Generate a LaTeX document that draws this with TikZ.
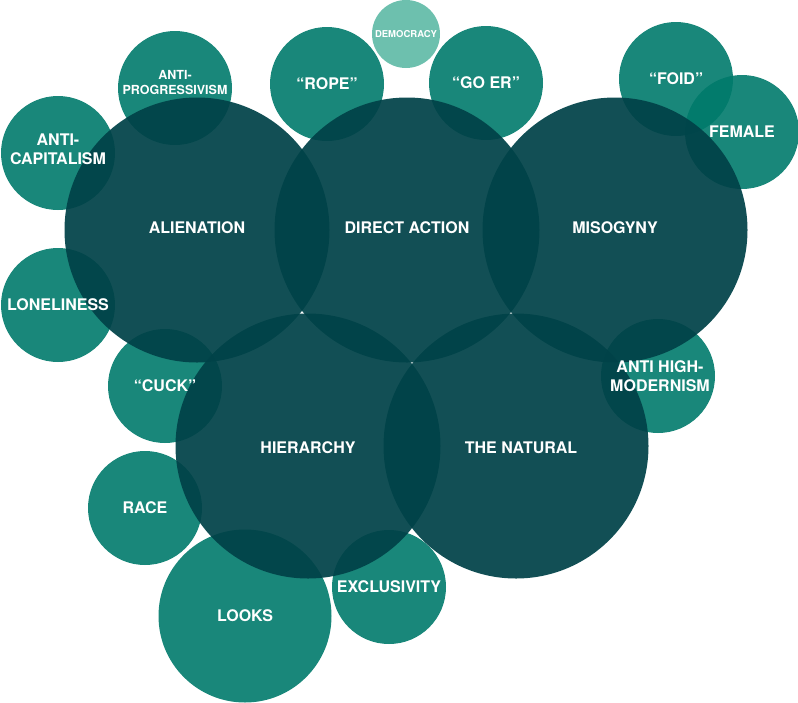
\documentclass[tikz,border=0pt]{standalone}
\usepackage{fontspec}
\setmainfont{TeX Gyre Heros}
\usetikzlibrary{positioning}
\definecolor{bigteal}{RGB}{0,66,72}
\definecolor{smallteal}{RGB}{0,122,107}
\definecolor{paleteal}{RGB}{109,192,174}
\tikzset{x=1pt,y=-1pt,
    big/.style={circle,fill=bigteal,fill opacity=0.93,minimum size=265pt,inner sep=0pt},
    small/.style={circle,fill=smallteal,fill opacity=0.9,minimum size=114pt,inner sep=0pt},
    tiny/.style={circle,fill=paleteal,minimum size=68pt,inner sep=0pt},
    textnode/.style={text=white,align=center,font=\bfseries\fontsize{16}{19}\selectfont},
    smalltext/.style={text=white,align=center,font=\bfseries\fontsize{12.5}{15}\selectfont}}

\begin{document}
\begin{tikzpicture}
\useasboundingbox (0,0) rectangle (798,702);
% outer circles
\node[tiny]  (democ)    at (406,34)   {};
\node[small] (antiprog) at (175,88)   {};
\node[small] (anticap)  at (58,153)   {};
\node[small] (rope)     at (327,84)   {};
\node[small] (goer)     at (486,83)   {};
\node[small] (foid)     at (676,79)   {};
\node[small] (female)   at (742,132)  {};
\node[small] (lonely)   at (58,305)   {};
\node[small] (cuck)     at (165,386)  {};
\node[small] (antihigh) at (658,376)  {};
\node[small] (race)     at (145,508)  {};
\node[small] (exclus)   at (389,587)  {};
\node[small, minimum size=173pt] (looks) at (245,616) {};
% core circles
\node[big] (alien)   at (197,230) {};
\node[big] (direct)  at (407,230) {};
\node[big] (misog)   at (615,230) {};
\node[big] (hier)    at (308,446) {};
\node[big] (natural) at (516,446) {};
% labels
\node[textnode] (alien-t)   [yshift=2pt]  at (alien)   {ALIENATION};
\node[textnode] (direct-t)  [yshift=2pt]  at (direct)  {DIRECT ACTION};
\node[textnode] (misog-t)   [yshift=2pt]  at (misog)   {MISOGYNY};
\node[textnode] (hier-t)    [yshift=-2pt] at (hier)    {HIERARCHY};
\node[textnode] (natural-t) [xshift=5pt,yshift=-2pt] at (natural) {THE NATURAL};
\node[font=\bfseries\fontsize{9.5}{11}\selectfont,text=white] (democ-t) at (democ) {DEMOCRACY};
\node[smalltext] (antiprog-t) [yshift=5pt] at (antiprog) {ANTI-\\PROGRESSIVISM};
\node[textnode] (anticap-t)  [yshift=4pt] at (anticap)  {ANTI-\\CAPITALISM};
\node[textnode] (rope-t)     at (rope)     {“ROPE”};
\node[textnode] (goer-t)     at (goer)     {“GO ER”};
\node[textnode] (foid-t)     at (foid)     {“FOID”};
\node[textnode] (female-t)   at (female)   {FEMALE};
\node[textnode] (lonely-t)   at (lonely)   {LONELINESS};
\node[textnode] (cuck-t)     at (cuck)     {“CUCK”};
\node[textnode] (antihigh-t) [xshift=2pt] at (antihigh) {ANTI HIGH-\\MODERNISM};
\node[textnode] (race-t)     at (race)     {RACE};
\node[textnode] (exclus-t)   at (exclus)   {EXCLUSIVITY};
\node[textnode] (looks-t)    at (looks)    {LOOKS};
\end{tikzpicture}
\end{document}
